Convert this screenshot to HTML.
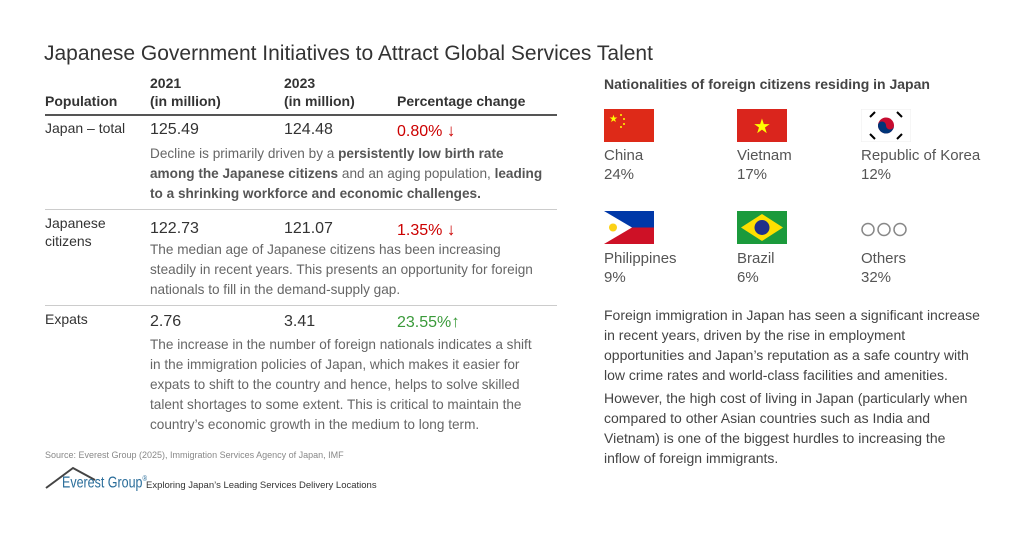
<!DOCTYPE html>
<html><head><meta charset="utf-8"><style>
body{margin:0;width:1023px;height:536px;background:#fff;font-family:"Liberation Sans",Arial,sans-serif;color:#444;position:relative;overflow:hidden}
.a{position:absolute;white-space:nowrap}
.h{font-weight:bold;font-size:14px;color:#333;line-height:18px}
.v{font-size:16px;color:#333}
.d{font-size:13.6px;line-height:20px;color:#666;white-space:normal;width:395px}
.d b{color:#555}
.line{position:absolute;left:45px;width:512px;height:1px;background:#ccc}
.n{font-size:15px;color:#555;line-height:19px}
.p{font-size:14px;line-height:20px;color:#444;white-space:normal;width:378px}
</style></head><body>
<div class="a" style="left:44px;top:42px;font-size:21px;color:#333">Japanese Government Initiatives to Attract Global Services Talent</div>
<div class="a h" style="left:45px;top:92px">Population</div>
<div class="a h" style="left:150px;top:74px">2021<br>(in million)</div>
<div class="a h" style="left:284px;top:74px">2023<br>(in million)</div>
<div class="a h" style="left:397px;top:92px">Percentage change</div>
<div class="line" style="top:114px;height:2px;background:#555"></div>
<div class="a v" style="left:45px;top:120px;font-size:14px">Japan – total</div>
<div class="a v" style="left:150px;top:121px">125.49</div>
<div class="a v" style="left:284px;top:121px">124.48</div>
<div class="a v" style="left:397px;top:121px;color:#c00">0.80% <span style="font-size:17px">↓</span></div>
<div class="a d" style="left:150px;top:144px">Decline is primarily driven by a <b>persistently low birth rate among the Japanese citizens</b> and an aging population, <b>leading to a shrinking workforce and economic challenges.</b></div>
<div class="line" style="top:209px"></div>
<div class="a v" style="left:45px;top:214px;font-size:14px;line-height:18px">Japanese<br>citizens</div>
<div class="a v" style="left:150px;top:220px">122.73</div>
<div class="a v" style="left:284px;top:220px">121.07</div>
<div class="a v" style="left:397px;top:220px;color:#c00">1.35% <span style="font-size:17px">↓</span></div>
<div class="a d" style="left:150px;top:240px">The median age of Japanese citizens has been increasing steadily in recent years. This presents an opportunity for foreign nationals to fill in the demand-supply gap.</div>
<div class="line" style="top:305px"></div>
<div class="a v" style="left:45px;top:311px;font-size:14px">Expats</div>
<div class="a v" style="left:150px;top:313px">2.76</div>
<div class="a v" style="left:284px;top:313px">3.41</div>
<div class="a v" style="left:397px;top:312px;color:#3a9a3a">23.55%<span style="font-size:17px">↑</span></div>
<div class="a d" style="left:150px;top:335px">The increase in the number of foreign nationals indicates a shift in the immigration policies of Japan, which makes it easier for expats to shift to the country and hence, helps to solve skilled talent shortages to some extent. This is critical to maintain the country’s economic growth in the medium to long term.</div>
<div class="a" style="left:45px;top:450px;font-size:9px;color:#888">Source: Everest Group (2025), Immigration Services Agency of Japan, IMF</div>
<svg class="a" style="left:45px;top:466px" width="60" height="24"><path d="M1 22 L28 2 L50 14" stroke="#444" stroke-width="2" fill="none"/></svg>
<div class="a" style="left:62px;top:474px;font-size:16px;color:#2a6d9a;transform:scaleX(0.78);transform-origin:left top">Everest Group<sup style="font-size:8px;color:#2a6d9a">®</sup></div>
<div class="a" style="left:146px;top:480px;font-size:9.5px;color:#333">Exploring Japan’s Leading Services Delivery Locations</div>

<div class="a" style="left:604px;top:76px;font-size:14px;font-weight:bold;color:#444">Nationalities of foreign citizens residing in Japan</div>
<svg class="a" style="left:604px;top:109px" width="50" height="33"><rect width="50" height="33" fill="#de2a18"/><text x="5" y="13" font-size="10" fill="#ff0">★</text><circle cx="17" cy="6" r="1" fill="#ff0"/><circle cx="20" cy="10" r="1" fill="#ff0"/><circle cx="20" cy="15" r="1" fill="#ff0"/><circle cx="17" cy="18" r="1" fill="#ff0"/></svg>
<svg class="a" style="left:737px;top:109px" width="50" height="33"><rect width="50" height="33" fill="#da251d"/><text x="25" y="24" font-size="20" fill="#ff0" text-anchor="middle">★</text></svg>
<svg class="a" style="left:861px;top:109px" width="50" height="33"><rect width="50" height="33" fill="#fff" stroke="#eee"/><circle cx="25" cy="16.5" r="8" fill="#c60c30"/><path d="M17 16.5 A8 8 0 0 0 33 16.5 A4 4 0 0 1 25 16.5 A4 4 0 0 0 17 16.5Z" fill="#003478"/><g stroke="#000" stroke-width="2"><line x1="9" y1="8" x2="14" y2="3"/><line x1="36" y1="3" x2="41" y2="8"/><line x1="9" y1="25" x2="14" y2="30"/><line x1="36" y1="30" x2="41" y2="25"/></g></svg>
<svg class="a" style="left:604px;top:211px" width="50" height="33"><rect width="50" height="16.5" fill="#0038a8"/><rect y="16.5" width="50" height="16.5" fill="#ce1126"/><path d="M0 0 L28 16.5 L0 33Z" fill="#fff"/><circle cx="9" cy="16.5" r="4" fill="#fcd116"/></svg>
<svg class="a" style="left:737px;top:211px" width="50" height="33"><rect width="50" height="33" fill="#1b9a3c"/><path d="M25 3 L46 16.5 L25 30 L4 16.5Z" fill="#fedf00"/><circle cx="25" cy="16.5" r="7.5" fill="#1f2f8a"/></svg>
<svg class="a" style="left:861px;top:222px" width="50" height="16"><g fill="none" stroke="#888" stroke-width="1.5"><circle cx="7" cy="7.5" r="6"/><circle cx="23" cy="7.5" r="6"/><circle cx="39" cy="7.5" r="6"/></g></svg>
<div class="a n" style="left:604px;top:146px">China<br>24%</div>
<div class="a n" style="left:737px;top:146px">Vietnam<br>17%</div>
<div class="a n" style="left:861px;top:146px">Republic of Korea<br>12%</div>
<div class="a n" style="left:604px;top:249px">Philippines<br>9%</div>
<div class="a n" style="left:737px;top:249px">Brazil<br>6%</div>
<div class="a n" style="left:861px;top:249px">Others<br>32%</div>
<div class="a p" style="left:604px;top:305px">Foreign immigration in Japan has seen a significant increase in recent years, driven by the rise in employment opportunities and Japan’s reputation as a safe country with low crime rates and world-class facilities and amenities.</div>
<div class="a p" style="left:604px;top:388px">However, the high cost of living in Japan (particularly when compared to other Asian countries such as India and Vietnam) is one of the biggest hurdles to increasing the inflow of foreign immigrants.</div>
</body></html>
